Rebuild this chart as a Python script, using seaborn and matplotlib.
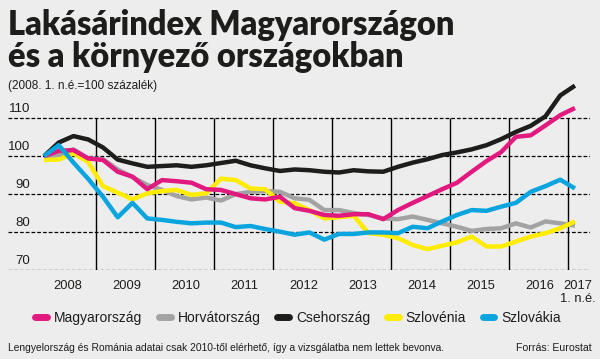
import matplotlib
matplotlib.use("Agg")
import matplotlib.pyplot as plt
from matplotlib.transforms import ScaledTranslation
import seaborn as sns
import numpy as np
import pandas as pd

# quarterly index, 2008 Q1 .. 2017 Q1 (2008 Q1 = 100)
quarters = np.arange(37)

hungary = [100, 101.4, 101.6, 99.4, 99.0, 95.9, 94.6, 91.3, 93.7, 93.4,
           93.0, 91.3, 91.1, 90.0, 88.9, 88.6, 89.3, 86.3, 85.6, 84.5,
           84.3, 84.7, 84.7, 83.4, 85.8, 87.7, 89.5, 91.3, 93.0, 95.9,
           98.7, 101.1, 105.1, 105.5, 108.1, 110.8, 112.7]
croatia = [100, 100.3, 101.8, 99.4, 99.2, 96.5, 94.5, 92.4, 91.1, 89.5,
           88.6, 89.1, 88.3, 90.0, 90.6, 90.8, 90.6, 88.9, 88.5, 85.8,
           85.8, 85.0, 84.5, 83.6, 83.4, 84.1, 83.2, 82.3, 81.4, 80.3,
           80.8, 81.0, 82.3, 81.2, 82.8, 82.3, 81.7]
czechia = [100, 103.6, 105.3, 104.4, 102.3, 99.1, 98.1, 97.2, 97.4, 97.6,
           97.2, 97.6, 98.2, 98.8, 97.6, 96.8, 96.1, 96.5, 96.3, 95.9,
           95.7, 96.3, 96.0, 95.9, 97.2, 98.3, 99.2, 100.3, 101.0, 101.8,
           102.9, 104.5, 106.4, 108.0, 110.5, 116.0, 118.6]
slovenia = [99.0, 99.1, 100.7, 98.5, 92.1, 90.4, 88.6, 90.2, 90.8, 91.1,
            89.8, 90.2, 94.1, 93.7, 91.5, 91.3, 88.0, 87.6, 85.8, 83.6,
            83.9, 84.3, 79.7, 79.3, 78.4, 76.6, 75.5, 76.4, 77.3, 78.8,
            76.2, 76.2, 77.5, 78.8, 79.7, 81.0, 82.8]
slovakia = [100, 102.9, 98.3, 94.0, 89.3, 83.9, 87.7, 83.6, 83.2, 82.7,
            82.3, 82.5, 82.5, 81.3, 81.6, 80.8, 80.1, 79.3, 79.9, 78.0,
            79.5, 79.5, 79.9, 79.9, 79.7, 81.4, 81.0, 82.8, 84.5, 85.8,
            85.6, 86.7, 87.7, 90.6, 92.1, 93.8, 91.5]

countries = ["Magyarország", "Horvátország", "Csehország", "Szlovénia", "Szlovákia"]
colors = ["#e2197e", "#a3a3a3", "#1d1d1b", "#ffec00", "#0aa5de"]
series = [hungary, croatia, czechia, slovenia, slovakia]
draw_order = [4, 0, 1, 2, 5]  # zorder per country

year_labels = ["2008", "2009", "2010", "2011", "2012", "2013", "2014",
               "2015", "2016", "2017\n1. n.é."]
year_pos = [1.6, 5.6, 9.6, 13.6, 17.6, 21.6, 25.6, 29.6, 33.6, 36.2]
year_breaks = [3.5, 7.5, 11.5, 15.5, 19.5, 23.5, 27.5, 31.5, 35.5]
y_ticks = [70, 80, 90, 100, 110]

df = pd.DataFrame({
    "q": np.tile(quarters, len(countries)),
    "value": np.concatenate(series),
    "country": np.repeat(countries, len(quarters)),
})

bg = "#ededed"
ink = "#1d1d1b"
sns.set_theme(style="white")
plt.rcParams["font.family"] = ["Liberation Sans", "DejaVu Sans"]
plt.rcParams["lines.solid_joinstyle"] = "round"

fig = plt.figure(figsize=(6, 3.59), dpi=100, facecolor=bg)
ax = fig.add_axes([8 / 600, 1 - 270 / 359, 582 / 600, 189.5 / 359])
ax.set_facecolor(bg)

sns.lineplot(data=df, x="q", y="value", hue="country", hue_order=countries,
             palette=dict(zip(countries, colors)), linewidth=3.2, ax=ax)
for line, z in zip(ax.lines, draw_order):
    line.set_zorder(z + 3)
    line.set_solid_capstyle("butt")

ax.set_xlim(-2.44, 37.02)
ax.set_ylim(70, 119.95)
for s in ax.spines.values():
    s.set_visible(False)

for y in y_ticks:
    ax.axhline(y, color="black", lw=0.9, ls=(0, (3, 1.6)), zorder=1)
ax.vlines(year_breaks, 70, 110, color="black", lw=1.0, zorder=1)

ax.set_yticks(y_ticks)
ax.set_yticklabels([str(v) for v in y_ticks])
ax.tick_params(axis="y", length=0, pad=0, labelsize=9.5, colors=ink)
for lab in ax.get_yticklabels():
    lab.set_verticalalignment("bottom")
    lab.set_transform(lab.get_transform() + ScaledTranslation(0.22, 0.03, fig.dpi_scale_trans))

ax.set_xticks(year_pos)
ax.set_xticklabels(year_labels, linespacing=1.1)
ax.tick_params(axis="x", length=0, pad=7, labelsize=9.3, colors=ink)
ax.set_xlabel("")
ax.set_ylabel("")

leg = ax.legend(loc="center", bbox_to_anchor=(0.497, 1 - 318 / 359),
                bbox_transform=fig.transFigure, ncol=5, frameon=False,
                fontsize=10, handlelength=0.85, handletextpad=0.5,
                columnspacing=1.2)
for h in leg.legend_handles:
    h.set_linewidth(5)
    h.set_solid_capstyle("round")
for t in leg.get_texts():
    t.set_color(ink)

fig.text(8 / 600, 1 - 35 / 359, "Lakásárindex Magyarországon",
         family=["Lato", "DejaVu Sans"], weight="heavy", fontsize=23.5,
         color=ink, va="baseline")
fig.text(8 / 600, 1 - 67 / 359, "és a környező országokban",
         family=["Lato", "DejaVu Sans"], weight="heavy", fontsize=23.5,
         color=ink, va="baseline")
fig.text(8 / 600, 1 - 86 / 359, "(2008. 1. n.é.=100 százalék)",
         fontsize=8.5, color=ink, va="center")
fig.text(8 / 600, 1 - 348 / 359,
         "Lengyelország és Románia adatai csak 2010-től elérhető, így a vizsgálatba nem lettek bevonva.",
         fontsize=7.4, color=ink, va="center")
fig.text(592 / 600, 1 - 348 / 359, "Forrás: Eurostat",
         fontsize=7.6, color=ink, va="center", ha="right")

fig.savefig("out.png", dpi=100, facecolor=bg)
